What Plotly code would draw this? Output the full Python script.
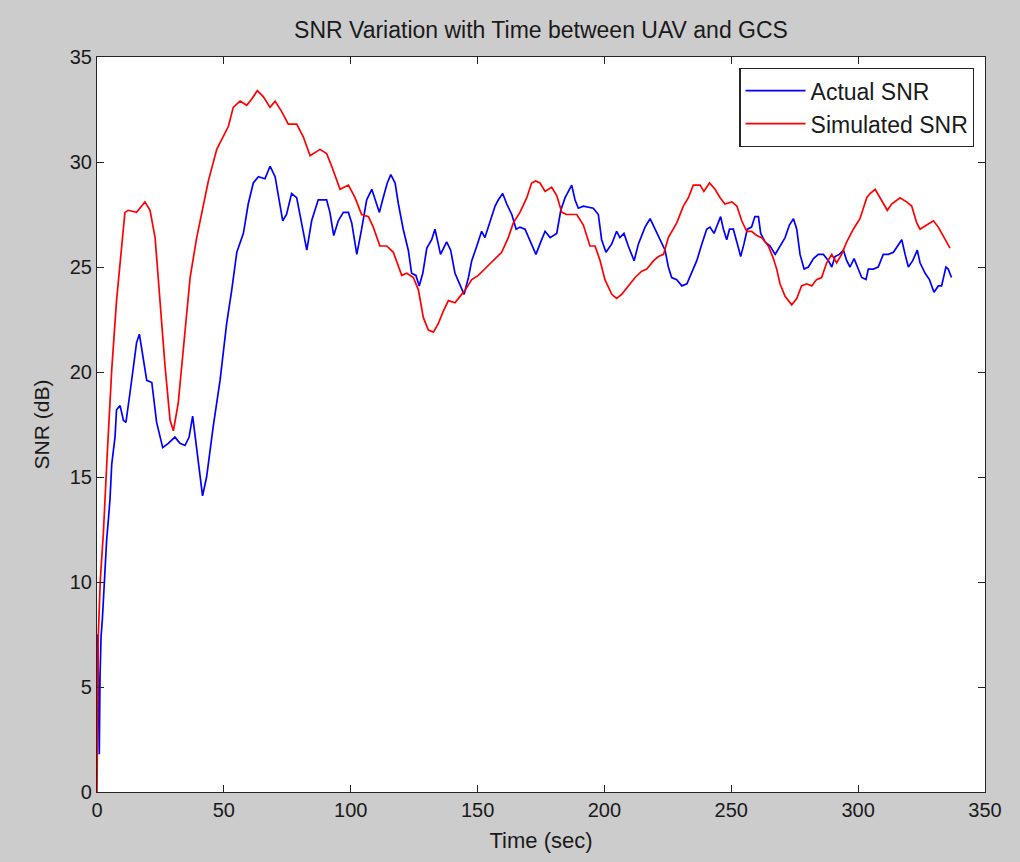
import plotly.graph_objects as go

# ---- data ----
sim_t = [0, 0.5, 1.3, 2.5, 4, 5.8, 7.7, 9.7, 11, 12.3, 15.6, 18.9, 20.9, 22.9, 24.8, 26.8, 28.8, 30.1, 32, 34,
         36.7, 39.3, 41.9, 43.9, 47.2, 49.8, 51.8, 53.7, 56.4, 59, 61, 63.2, 65.6, 68.2, 70.2, 72.8, 75.4, 78.7,
         81.3, 84, 87.9, 90.5, 92.5, 95.8, 99.1, 101.7, 104.3, 107, 108.9, 111.5, 114.2, 116.8, 120.1, 122.1,
         124.7, 126.7, 128.6, 130.6, 132.6, 134.5, 136.5, 138.5, 141.1, 143.1, 145.1, 147.7, 150.3, 153.6,
         156.2, 159.5, 162.1, 164.1, 166.7, 169.4, 171.3, 172.9, 174.6, 176.6, 179.2, 181.2, 183.2, 185.1,
         189.1, 191.7, 194.3, 196.3, 198.3, 200.2, 202.9, 204.8, 206.8, 209.4, 212.1, 214.7, 216.7, 219.4,
         221.3, 223.3, 225.2, 228.5, 231.1, 233.1, 235, 237.7, 239.2, 241.4, 243.6, 245.6, 247.5, 250.2,
         252.2, 254.1, 256.1, 258, 260, 262, 264.6, 266.6, 267.9, 269.2, 271.2, 273.8, 275.8, 277.7, 279.7,
         281.7, 283.6, 285.6, 287.6, 289.6, 291.5, 293.5, 295.5, 298.1, 300.7, 303.4, 304.7, 306.7, 308.6,
         311.5, 313.2, 316.5, 319.1, 321.1, 323.1, 324.4, 327, 329.7, 331.6, 333.9, 336.2]
sim_snr = [0, 7.4, 10.1, 12.3, 16, 20.1, 23.4, 26.1, 27.6, 27.7, 27.6, 28.1, 27.7, 26.4, 23.3, 20.3, 17.7, 17.2,
           18.5, 21.0, 24.5, 26.4, 28.0, 29.1, 30.6, 31.2, 31.7, 32.6, 32.9, 32.7, 33.0, 33.4, 33.1, 32.6, 32.9,
           32.4, 31.8, 31.8, 31.2, 30.3, 30.6, 30.4, 29.8, 28.7, 28.9, 28.3, 27.5, 27.4, 26.9, 26.0, 26.0, 25.7,
           24.6, 24.7, 24.5, 23.9, 22.6, 22.0, 21.9, 22.3, 22.9, 23.4, 23.3, 23.6, 23.9, 24.4, 24.6, 25.0, 25.3,
           25.7, 26.4, 27.1, 27.6, 28.3, 29.0, 29.1, 29.0, 28.6, 28.8, 28.4, 27.6, 27.5, 27.5, 27.0, 26.0, 26.0,
           25.3, 24.4, 23.7, 23.5, 23.7, 24.1, 24.5, 24.8, 24.9, 25.3, 25.5, 25.6, 26.4, 27.1, 27.9, 28.3, 28.9,
           28.9, 28.6, 29.0, 28.7, 28.3, 28.0, 28.1, 27.9, 27.2, 26.7, 26.7, 26.5, 26.4, 26.0, 25.4, 24.9, 24.2,
           23.6, 23.2, 23.5, 24.1, 24.2, 24.1, 24.4, 24.5, 25.2, 25.6, 25.2, 25.6, 26.2, 26.8, 27.3, 28.3, 28.5,
           28.7, 28.3, 27.7, 28.0, 28.3, 28.1, 27.9, 27.1, 26.8, 27.0, 27.2, 26.9, 26.4, 25.9]

act_t = [0, 0.3, 0.6, 0.9, 1.2, 1.6, 2.1, 2.6, 3.2, 3.8, 4.5, 5.1, 5.8, 7.1, 7.7, 9.1, 10.4, 11.4, 13, 14.3,
         15.6, 16.7, 18.3, 19.6, 21.6, 23.5, 25.9, 28.1, 30.7, 32.7, 34.7, 36.3, 37.7, 39.3, 41.6, 43.2, 45.8,
         48.5, 51.1, 53.1, 55.1, 57.7, 59.6, 61.6, 63.6, 66.2, 68.2, 70.2, 71.5, 73.2, 74.7, 76.7, 78.7, 80.7,
         82.7, 84.6, 87.2, 90.5, 91.8, 93.3, 95.1, 97.1, 99.1, 100.4, 102.4, 104.3, 106.3, 108.3, 109.6, 111.3,
         112.8, 114.4, 115.8, 117.5, 118.8, 120.7, 122.7, 124, 125.7, 127, 128.4, 130, 131.9, 133.2, 134.5,
         135.4, 137.8, 139.4, 141.1, 143.1, 144.7, 146.4, 147.7, 149.7, 151.6, 152.9, 154.9, 156.9, 158.2,
         159.9, 161.5, 163.5, 165.2, 166.7, 168.7, 170.7, 173, 174.6, 176.6, 178.6, 181.2, 182.8, 184.5,
         187.1, 188.4, 189.7, 191.7, 195.6, 197.6, 198.9, 200.6, 202.9, 204.8, 206.1, 207.7, 209.4, 211.7,
         213.4, 216, 218, 219.9, 221.9, 223.9, 225.2, 226.5, 228.5, 230.5, 232.5, 234.4, 236.4, 238.4, 240.3,
         241.6, 243.2, 244.5, 245.8, 246.9, 248.2, 249.3, 250.8, 252.4, 253.7, 255, 256.3, 258, 259.3, 260.7,
         261.6, 263.3, 265.3, 267.3, 269.2, 271.2, 272.9, 274.5, 275.8, 277.1, 278.7, 280.4, 282.4, 284.3,
         286.3, 288.3, 289.6, 290.9, 292.6, 294.2, 295.5, 296.8, 298.4, 300, 301.4, 303.1, 304, 306, 307.9,
         309.9, 311.9, 313.9, 315.4, 317.2, 318.5, 319.8, 321.5, 323.3, 324.4, 326.4, 328.1, 329.9, 331.6,
         332.9, 334.6, 335.5, 336.8]
act_snr = [2.5, 7.5, 4.5, 1.8, 5.5, 7.4, 8.2, 9.5, 10.5, 12.0, 13.0, 13.9, 15.6, 16.9, 18.2, 18.4, 17.7, 17.6,
           19.0, 20.1, 21.4, 21.8, 20.6, 19.6, 19.5, 17.6, 16.4, 16.6, 16.9, 16.6, 16.5, 16.9, 17.9, 16.3, 14.1,
           15.0, 17.4, 19.6, 22.3, 23.9, 25.7, 26.6, 28.0, 29.0, 29.3, 29.2, 29.8, 29.3, 28.3, 27.2, 27.5, 28.5,
           28.3, 27.1, 25.8, 27.2, 28.2, 28.2, 27.6, 26.5, 27.2, 27.6, 27.6, 27.1, 25.6, 26.8, 28.2, 28.7, 28.2,
           27.6, 28.3, 29.0, 29.4, 29.0, 28.0, 26.8, 25.8, 24.7, 24.6, 24.1, 24.7, 25.9, 26.3, 26.8, 26.1, 25.6,
           26.2, 25.8, 24.7, 24.1, 23.7, 24.5, 25.3, 26.0, 26.7, 26.4, 27.1, 27.9, 28.2, 28.5, 28.0, 27.5, 26.8,
           26.9, 26.8, 26.2, 25.6, 26.1, 26.7, 26.4, 26.6, 27.7, 28.3, 28.9, 28.2, 27.8, 27.9, 27.8, 27.5, 26.3,
           25.7, 26.1, 26.7, 26.4, 26.6, 26.0, 25.3, 26.1, 26.9, 27.3, 26.8, 26.3, 25.8, 25.0, 24.5, 24.4, 24.1,
           24.2, 24.7, 25.3, 26.1, 26.8, 26.9, 26.6, 27.0, 27.4, 26.8, 26.3, 26.8, 26.8, 26.1, 25.5, 26.1, 26.8,
           26.9, 27.4, 27.4, 26.6, 26.2, 26.0, 25.6, 26.0, 26.4, 27.0, 27.3, 26.8, 25.6, 24.9, 25.0, 25.4, 25.6,
           25.6, 25.3, 25.0, 25.5, 25.6, 25.8, 25.3, 25.0, 25.4, 24.9, 24.5, 24.4, 24.9, 24.9, 25.0, 25.6, 25.6,
           25.7, 26.0, 26.3, 25.6, 25.0, 25.3, 25.8, 25.2, 24.7, 24.4, 23.8, 24.1, 24.1, 25.0, 24.9, 24.5]

x_ticks = [0, 50, 100, 150, 200, 250, 300, 350]
y_ticks = [0, 5, 10, 15, 20, 25, 30, 35]

FONT = "Liberation Sans, Arial, sans-serif"
TXT = "#1a1a1a"

fig = go.Figure()
fig.add_trace(go.Scatter(x=act_t, y=act_snr, mode="lines", name="Actual SNR",
                         line=dict(color="#0000ff", width=1.7)))
fig.add_trace(go.Scatter(x=sim_t, y=sim_snr, mode="lines", name="Simulated SNR",
                         line=dict(color="#ff0000", width=1.7)))

axis_common = dict(showline=True, linecolor="#262626", linewidth=1.2, mirror="ticks",
                   ticks="inside", ticklen=7, tickcolor="#262626", tickwidth=1,
                   showgrid=False, zeroline=False,
                   tickfont=dict(family=FONT, size=20, color=TXT))

fig.update_xaxes(range=[0, 350], tickvals=x_ticks, ticktext=[str(v) for v in x_ticks],
                 title=dict(text="Time (sec)", font=dict(family=FONT, size=22, color=TXT), standoff=12),
                 **axis_common)
fig.update_yaxes(range=[0, 35], tickvals=y_ticks, ticktext=[str(v) for v in y_ticks],
                 title=dict(text="SNR (dB)", font=dict(family=FONT, size=21, color=TXT), standoff=14),
                 **axis_common)

fig.update_layout(
    width=1020, height=862,
    margin=dict(l=97, r=35, t=57, b=70, autoexpand=False),
    paper_bgcolor="#cccccc", plot_bgcolor="#ffffff",
    font=dict(family=FONT, size=20, color=TXT),
    title=dict(text="SNR Variation with Time between UAV and GCS", x=0.5, xanchor="center",
               xref="paper", y=1 - 30 / 862, yanchor="middle",
               font=dict(family=FONT, size=23, color=TXT)),
    legend=dict(x=0.988, y=0.985, xanchor="right", yanchor="top",
                bgcolor="#ffffff", bordercolor="#262626", borderwidth=1.2,
                font=dict(family=FONT, size=23, color=TXT),
                tracegroupgap=0, itemwidth=60),
    showlegend=True,
)

fig.write_html("out.html", config={"displayModeBar": False},
               post_script="document.body.style.margin='0';document.body.style.padding='0';")
